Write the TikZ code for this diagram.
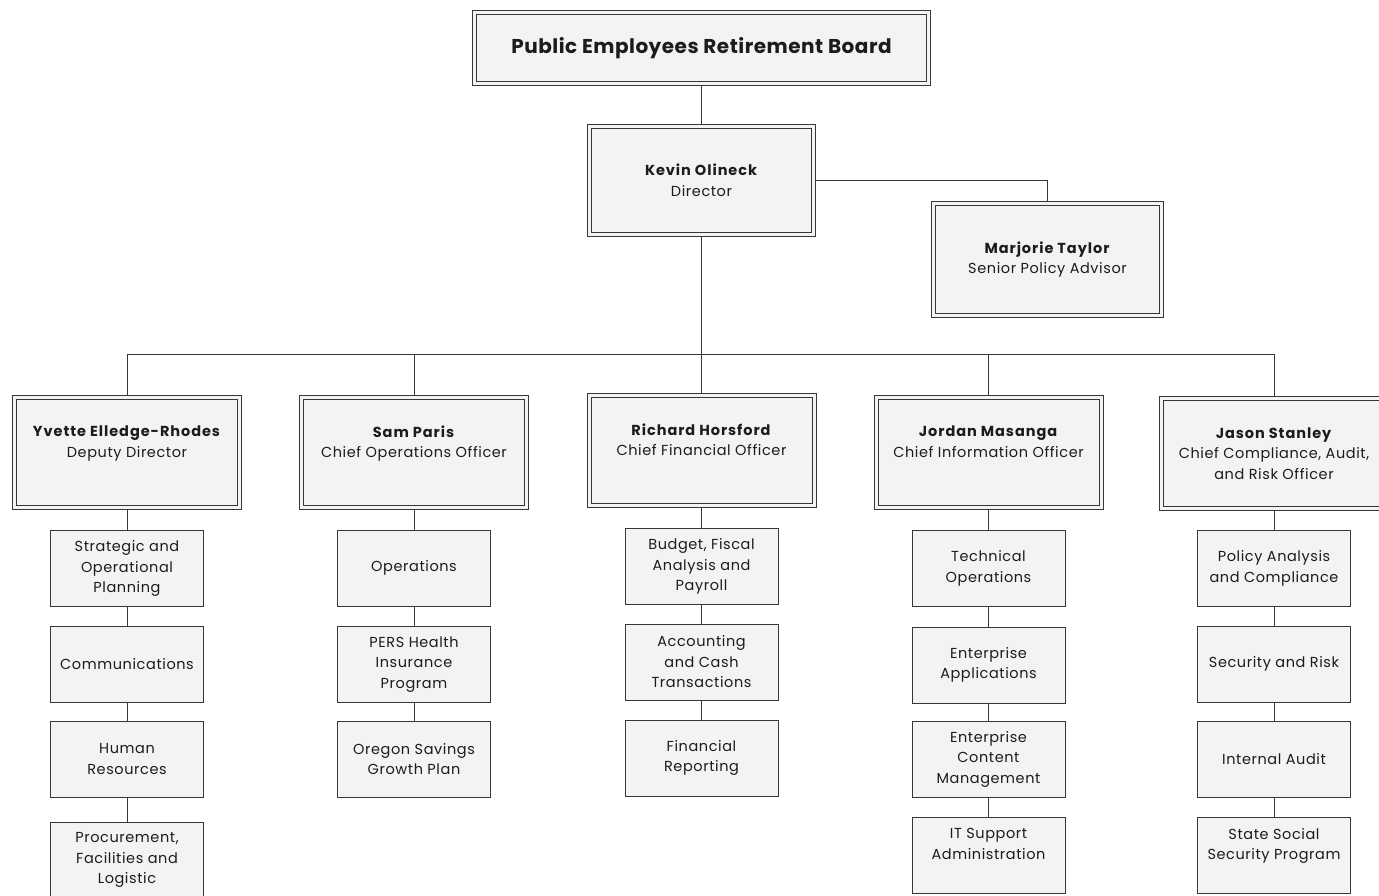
\documentclass[tikz,border=0pt]{standalone}
\usepackage{fontspec}
\setmainfont{Poppins}[LetterSpace=4,BoldFeatures={LetterSpace=6.5}]
\newfontfamily\boardfont{Poppins}[LetterSpace=2.5]
\usepackage{tikz}
\definecolor{boxline}{RGB}{55,55,55}
\definecolor{boxfill}{RGB}{243,243,243}
\definecolor{ink}{RGB}{28,28,28}
\tikzset{
    link/.style={draw=boxline, line width=0.8pt},
    frame/.style={draw=boxline, line width=0.8pt, fill=boxfill,
             path picture={\draw[boxline,line width=0.8pt]
                 ([shift={(4pt,4pt)}]path picture bounding box.south west) rectangle
                 ([shift={(-4pt,-4pt)}]path picture bounding box.north east);}},
    board/.style={frame, text=ink, align=center, inner sep=0pt,
             minimum width=458pt, minimum height=75pt,
             font=\boardfont\fontsize{20}{22}\selectfont\bfseries},
    chief/.style={frame, text=ink, align=center, inner sep=0pt,
             minimum width=229pt, minimum height=114pt,
             font=\fontsize{14.5}{20.5}\selectfont},
    unit/.style={draw=boxline, line width=0.8pt, fill=boxfill, text=ink,
             align=center, inner sep=0pt,
             minimum width=153pt, minimum height=76pt,
             font=\fontsize{14.5}{20.5}\selectfont},
    raised/.style={text depth=22pt}
  }

\begin{document}
\begin{tikzpicture}[x=1pt,y=-1pt]
 \useasboundingbox (0,0) rectangle (1379,896);
 \clip (0,0) rectangle (1379,896);
 %Board and director
     \node[board] (board) at (701.5,48) {Public Employees Retirement Board};
     \node[chief,minimum width=228pt,minimum height=112pt] (director) at (701.5,180.5)
          {\textbf{Kevin Olineck}\\Director};
     \node[chief,minimum width=232pt,minimum height=116pt] (advisor) at (1047.5,259.5)
          {\textbf{Marjorie Taylor}\\Senior Policy Advisor};
 %Chiefs
     \node[chief,raised] (deputy) at (127,452.5) {\textbf{Yvette Elledge-Rhodes}\\Deputy Director};
     \node[chief,raised] (coo) at (414,452.5) {\textbf{Sam Paris}\\Chief Operations Officer};
     \node[chief,raised] (cfo) at (701.5,450.5) {\textbf{Richard Horsford}\\Chief Financial Officer};
     \node[chief,raised] (cio) at (988.5,452.5) {\textbf{Jordan Masanga}\\Chief Information Officer};
     \node[chief,text depth=0pt] (cao) at (1274,453.5)
          {\textbf{Jason Stanley}\\Chief Compliance, Audit,\\and Risk Officer};
 %Deputy director units
     \node[unit] (strategic) at (127,568.5) {Strategic and\\Operational\\Planning};
     \node[unit] (comms) at (127,664) {Communications};
     \node[unit] (hr) at (127,759) {Human\\Resources};
     \node[unit] (procure) at (127,860) {Procurement,\\Facilities and\\Logistic};
 %Operations units
     \node[unit] (ops) at (414,568) {Operations};
     \node[unit] (health) at (414,664.5) {PERS Health\\Insurance\\Program};
     \node[unit] (savings) at (414,759) {Oregon Savings\\Growth Plan};
 %Financial units
     \node[unit] (budget) at (701.5,566.5) {Budget, Fiscal\\Analysis and\\Payroll};
     \node[unit] (accounting) at (701.5,662) {Accounting\\and Cash\\Transactions};
     \node[unit] (reporting) at (701.5,758) {Financial\\Reporting};
 %Information units
     \node[unit] (techops) at (988.5,568.5) {Technical\\Operations};
     \node[unit] (apps) at (988.5,665) {Enterprise\\Applications};
     \node[unit] (content) at (988.5,759) {Enterprise\\Content\\Management};
     \node[unit,raised] (itsupport) at (988.5,855) {IT Support\\Administration};
 %Compliance units
     \node[unit] (policy) at (1274,568.5) {Policy Analysis\\and Compliance};
     \node[unit] (security) at (1274,664) {Security and Risk};
     \node[unit] (audit) at (1274,759) {Internal Audit};
     \node[unit,raised] (socsec) at (1274,855) {State Social\\Security Program};
 %Connectors
     \coordinate (bus) at (701.5,354);
     \draw[link] (board) -- (director);
     \draw[link] (director.east) -| (advisor.north);
     \draw[link] (director) -- (cfo);
     \foreach \chief in {deputy,coo,cio,cao}
         \draw[link] (\chief.north) |- (bus);
     \draw[link] (deputy) -- (strategic) -- (comms) -- (hr) -- (procure);
     \draw[link] (coo) -- (ops) -- (health) -- (savings);
     \draw[link] (cfo) -- (budget) -- (accounting) -- (reporting);
     \draw[link] (cio) -- (techops) -- (apps) -- (content) -- (itsupport);
     \draw[link] (cao) -- (policy) -- (security) -- (audit) -- (socsec);
 \end{tikzpicture}
\end{document}
